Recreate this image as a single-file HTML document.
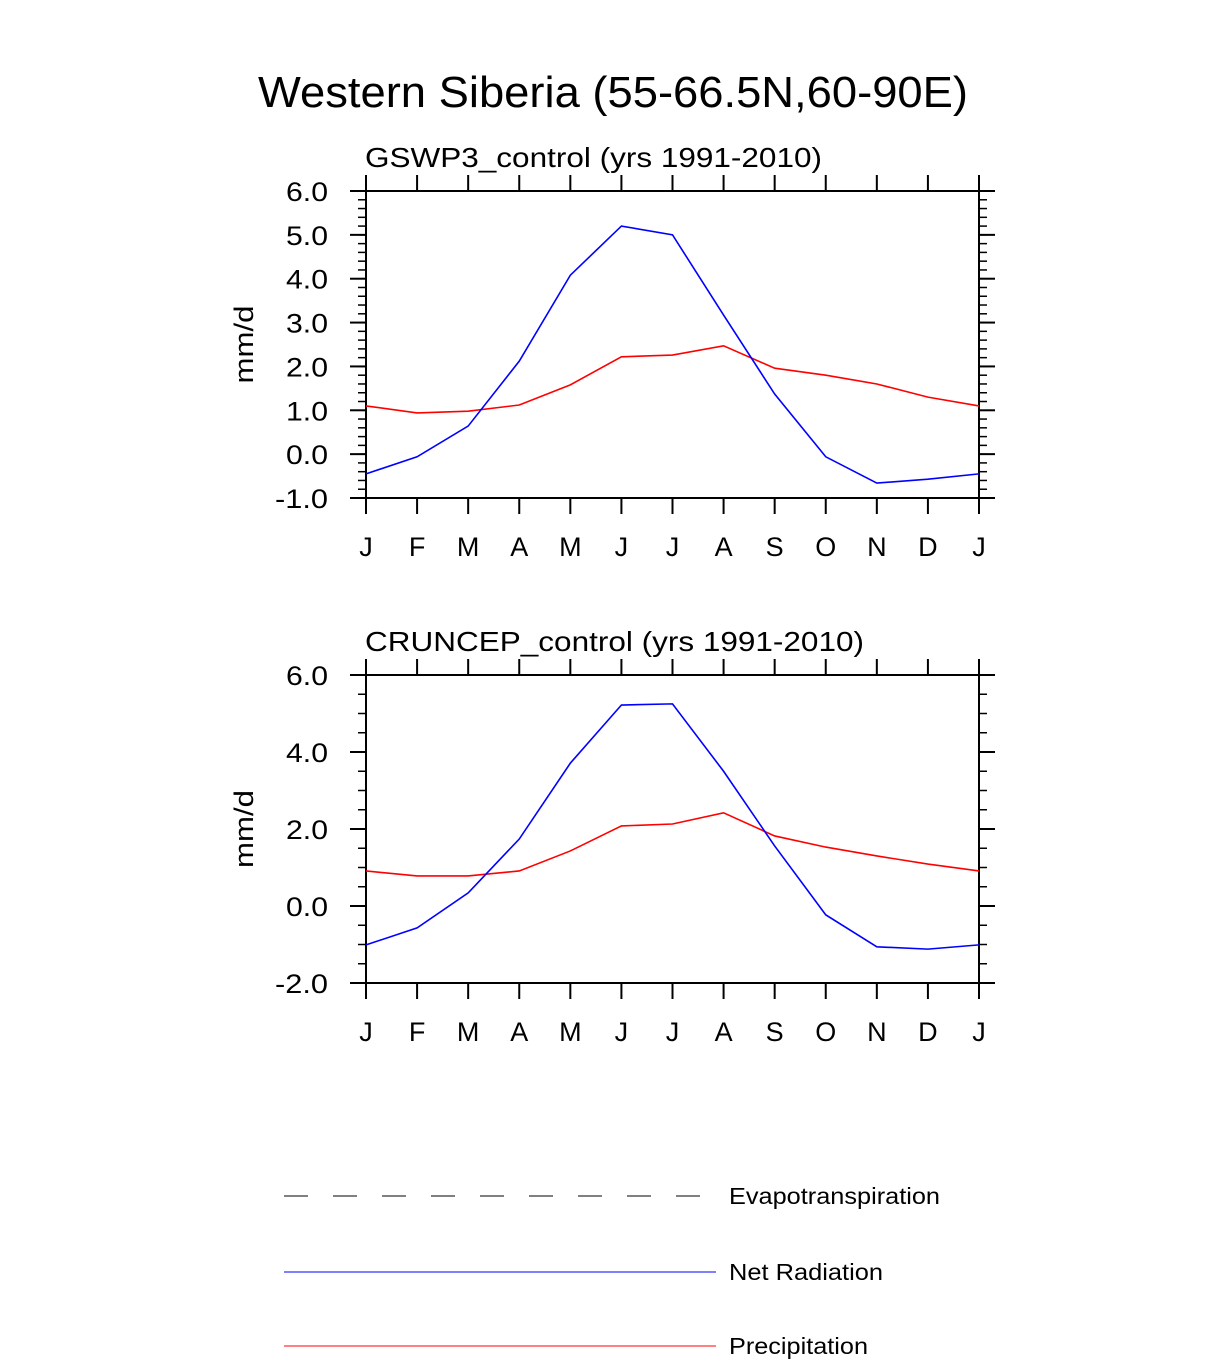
<!DOCTYPE html>
<html><head><meta charset="utf-8"><style>
body{margin:0;background:#fff;}
svg{display:block;font-family:"Liberation Sans",sans-serif;}
</style></head><body>
<svg id="chart" width="1224" height="1359" viewBox="0 0 1224 1359">
<text x="258" y="107" font-size="44" textLength="710" lengthAdjust="spacingAndGlyphs">Western Siberia (55-66.5N,60-90E)</text>
<g id="p1"></g>
<g id="p2"></g>
<g>
<line x1="284" y1="1196" x2="716" y2="1196" stroke="#000" stroke-width="1" stroke-dasharray="24,25"/>
<text x="729" y="1204" font-size="23" textLength="211" lengthAdjust="spacingAndGlyphs">Evapotranspiration</text>
<line x1="284" y1="1272" x2="716" y2="1272" stroke="#00f" stroke-width="1"/>
<text x="729" y="1280" font-size="23" textLength="154" lengthAdjust="spacingAndGlyphs">Net Radiation</text>
<line x1="284" y1="1346" x2="716" y2="1346" stroke="#f00" stroke-width="1"/>
<text x="729" y="1354" font-size="23" textLength="139" lengthAdjust="spacingAndGlyphs">Precipitation</text>
</g>
</svg>
<script>
const months = ["J","F","M","A","M","J","J","A","S","O","N","D","J"];
const gswpNetRad = [-0.45,-0.06,0.64,2.12,4.08,5.2,5.0,3.17,1.37,-0.06,-0.66,-0.57,-0.45];
const gswpPrecip = [1.1,0.94,0.98,1.12,1.58,2.22,2.26,2.47,1.96,1.8,1.6,1.3,1.1];
const cruNetRad = [-1.01,-0.57,0.34,1.74,3.71,5.22,5.25,3.5,1.56,-0.23,-1.06,-1.12,-1.01];
const cruPrecip = [0.91,0.78,0.78,0.91,1.43,2.08,2.13,2.42,1.82,1.53,1.3,1.09,0.91];
const gswpTicks = [-1,0,1,2,3,4,5,6];
const cruTicks = [-2,0,2,4,6];
const NS="http://www.w3.org/2000/svg";
function mk(g,tag,a){const e=document.createElementNS(NS,tag);for(const k in a)e.setAttribute(k,a[k]);g.appendChild(e);return e;}
function panel(g,top,bot,ymin,ymax,ticks,minorStep,title,titleLen,net,pre){
  const L=366,R=979;
  const x=i=>L+(R-L)*i/(months.length-1);
  const y=v=>bot-(v-ymin)/(ymax-ymin)*(bot-top);
  const t=mk(g,'text',{x:L-1,y:top-24,'font-size':28,textLength:titleLen,lengthAdjust:'spacingAndGlyphs'});t.textContent=title;
  
  
  const fr=mk(g,'rect',{x:L,y:top,width:R-L,height:bot-top,fill:'none',stroke:'#000','stroke-width':2});
  
  
  for(let v=ymin;v<=ymax+1e-9;v+=minorStep){
    mk(g,'line',{x1:L-8,x2:L,y1:y(v),y2:y(v),stroke:'#000','stroke-width':1.5});
    mk(g,'line',{x1:R,x2:R+8,y1:y(v),y2:y(v),stroke:'#000','stroke-width':1.5});
  }
  ticks.forEach(v=>{
    mk(g,'line',{x1:L-16,x2:L,y1:y(v),y2:y(v),stroke:'#000','stroke-width':2});
    mk(g,'line',{x1:R,x2:R+16,y1:y(v),y2:y(v),stroke:'#000','stroke-width':2});
    const s=v.toFixed(1);
    const tl=mk(g,'text',{x:L-38,y:y(v)+10,'font-size':27,'text-anchor':'end',textLength:s.length>3?53:42,lengthAdjust:'spacingAndGlyphs'});tl.textContent=s;
    
    
  });
  months.forEach((m,i)=>{
    mk(g,'line',{x1:x(i),x2:x(i),y1:top-16,y2:top,stroke:'#000','stroke-width':2});
    mk(g,'line',{x1:x(i),x2:x(i),y1:bot,y2:bot+16,stroke:'#000','stroke-width':2});
    const tl=mk(g,'text',{x:x(i),y:bot+58,'font-size':27,'text-anchor':'middle'});tl.textContent=m;
    
    
  });
  const yl=mk(g,'text',{x:0,y:0,'font-size':27,'text-anchor':'middle',textLength:78,lengthAdjust:'spacingAndGlyphs',transform:`translate(253,${(top+bot)/2}) rotate(-90)`});yl.textContent='mm/d';
  
  
  const pr=mk(g,'polyline',{points:pre.map((v,i)=>x(i)+','+y(v)).join(' '),fill:'none',stroke:'#f00','stroke-width':1.6});
  
  
  const nr=mk(g,'polyline',{points:net.map((v,i)=>x(i)+','+y(v)).join(' '),fill:'none',stroke:'#00f','stroke-width':1.6});
  
  
}
panel(document.getElementById('p1'),191,498,-1,6,gswpTicks,0.2,'GSWP3_control (yrs 1991-2010)',457,gswpNetRad,gswpPrecip);
panel(document.getElementById('p2'),675,983,-2,6,cruTicks,0.5,'CRUNCEP_control (yrs 1991-2010)',499,cruNetRad,cruPrecip);
</script>
</body></html>
